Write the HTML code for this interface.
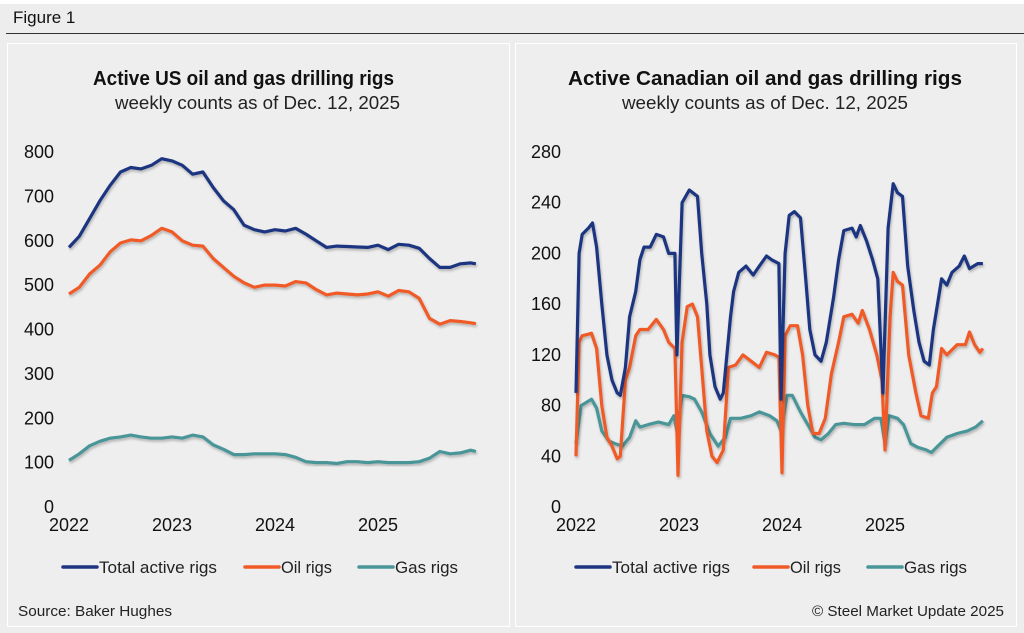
<!DOCTYPE html>
<html><head><meta charset="utf-8">
<style>
html,body{margin:0;padding:0;}
body{width:1024px;height:633px;background:#ededed;font-family:"Liberation Sans",Arial,sans-serif;position:relative;overflow:hidden;}
.top{position:absolute;left:0;top:0;width:1024px;height:4px;background:#fff;}
.fig{position:absolute;left:13px;top:8px;font-size:17px;color:#111;}
.rule{position:absolute;left:6px;top:33px;width:1018px;height:1px;background:#333;}
.panel{position:absolute;top:43px;height:584px;border:1px solid #fff;background:#eeeeee;box-sizing:border-box;}
svg text{font-family:"Liberation Sans",Arial,sans-serif;}
</style></head>
<body>
<div class="top"></div>
<div class="fig">Figure 1</div>
<div class="rule"></div>
<div class="panel" style="left:7px;width:503px"></div>
<div class="panel" style="left:515px;width:502px"></div>
<svg id="s" width="1024" height="633" style="position:absolute;left:0;top:0">
<defs><filter id="sh" x="-5%" y="-5%" width="110%" height="115%"><feDropShadow dx="1" dy="2" stdDeviation="1.2" flood-color="#000" flood-opacity="0.25"/></filter></defs>
<text x="93" y="85" font-size="20" font-weight="bold" fill="#111" textLength="301" lengthAdjust="spacingAndGlyphs">Active US oil and gas drilling rigs</text>
<text x="115" y="109" font-size="18" fill="#222" textLength="285" lengthAdjust="spacingAndGlyphs">weekly counts as of Dec. 12, 2025</text>
<text x="568" y="85" font-size="20" font-weight="bold" fill="#111" textLength="394" lengthAdjust="spacingAndGlyphs">Active Canadian oil and gas drilling rigs</text>
<text x="622" y="109" font-size="18" fill="#222" textLength="286" lengthAdjust="spacingAndGlyphs">weekly counts as of Dec. 12, 2025</text>
<text x="18" y="616" font-size="15" fill="#222" textLength="154" lengthAdjust="spacingAndGlyphs">Source: Baker Hughes</text>
<text x="812" y="616" font-size="15" fill="#222" textLength="192" lengthAdjust="spacingAndGlyphs">© Steel Market Update 2025</text>
<g id="us"></g><g id="ca"></g>
</svg>
<script>
// US data (decimal years since 2022)
const usDates = [0,0.1,0.2,0.3,0.4,0.5,0.6,0.7,0.8,0.9,1.0,1.1,1.2,1.3,1.4,1.5,1.6,1.7,1.8,1.9,2.0,2.1,2.2,2.3,2.4,2.5,2.6,2.7,2.8,2.9,3.0,3.1,3.2,3.3,3.4,3.5,3.6,3.7,3.8,3.9,3.95];
const usTotal = [585,610,650,690,725,755,765,762,770,785,780,770,750,755,720,690,670,635,625,620,625,622,628,615,600,585,588,587,586,585,590,580,592,590,583,560,540,540,548,550,548];
const usOil = [480,495,525,545,575,595,602,600,612,628,620,600,590,588,560,540,520,505,495,500,500,498,508,505,490,478,482,480,478,480,485,475,488,485,470,425,412,420,418,415,413];
const usGas = [105,120,138,148,155,158,162,158,155,155,158,155,162,158,140,130,118,118,120,120,120,118,112,102,100,100,98,102,102,100,102,100,100,100,102,110,125,120,122,128,125];
const usYTicks = [0,100,200,300,400,500,600,700,800];
const yearLabels = ["2022","2023","2024","2025"];
// Canada data
const caTotalDates = [0,0.03,0.06,0.12,0.16,0.2,0.25,0.3,0.35,0.4,0.43,0.48,0.52,0.58,0.62,0.66,0.72,0.78,0.85,0.9,0.93,0.96,0.98,1.03,1.1,1.18,1.22,1.27,1.3,1.35,1.4,1.43,1.5,1.53,1.58,1.65,1.72,1.78,1.85,1.9,1.97,1.99,2.03,2.07,2.12,2.18,2.23,2.27,2.32,2.38,2.43,2.5,2.55,2.6,2.68,2.72,2.76,2.82,2.88,2.93,2.98,3.03,3.08,3.12,3.17,3.22,3.28,3.33,3.38,3.43,3.47,3.55,3.6,3.65,3.72,3.77,3.82,3.9,3.95];
const caTotal = [90,200,215,220,224,205,160,120,100,90,88,110,150,170,195,205,205,215,213,200,200,200,120,240,250,245,200,160,120,95,85,90,150,170,185,190,183,190,198,195,192,85,200,230,233,228,180,140,120,115,130,165,195,218,220,213,222,210,195,180,90,220,255,248,245,190,155,130,115,112,140,180,175,185,190,198,188,192,192];
const caOilDates = [0,0.03,0.06,0.15,0.2,0.25,0.3,0.35,0.4,0.43,0.48,0.52,0.58,0.62,0.7,0.78,0.85,0.9,0.96,0.99,1.03,1.08,1.13,1.18,1.22,1.27,1.32,1.37,1.43,1.48,1.55,1.62,1.7,1.78,1.85,1.93,1.97,2.0,2.03,2.08,2.15,2.2,2.25,2.3,2.36,2.42,2.48,2.55,2.6,2.68,2.74,2.78,2.85,2.92,2.97,3.0,3.05,3.08,3.12,3.17,3.23,3.3,3.35,3.42,3.46,3.5,3.55,3.6,3.7,3.78,3.82,3.87,3.92,3.95];
const caOil = [40,130,135,137,125,80,55,48,38,40,100,110,135,140,140,148,140,130,125,25,130,158,160,150,110,60,40,35,45,110,112,120,115,110,122,120,118,27,135,143,143,120,80,58,58,70,105,130,150,152,145,155,140,120,100,45,150,185,178,175,120,90,72,70,90,95,125,120,128,128,138,128,122,125];
const caGasDates = [0,0.05,0.15,0.2,0.25,0.32,0.38,0.45,0.52,0.58,0.62,0.7,0.8,0.9,0.95,0.98,1.03,1.1,1.15,1.22,1.3,1.38,1.45,1.5,1.6,1.7,1.78,1.88,1.95,1.99,2.05,2.1,2.18,2.25,2.32,2.38,2.45,2.52,2.6,2.7,2.8,2.9,2.96,3.0,3.04,3.12,3.18,3.25,3.32,3.4,3.45,3.5,3.6,3.7,3.8,3.88,3.95];
const caGas = [50,80,85,78,60,52,50,48,55,68,63,65,67,65,72,60,88,87,85,75,58,48,55,70,70,72,75,72,68,60,88,88,75,65,55,53,58,65,66,65,65,70,70,50,72,70,65,50,47,45,43,47,55,58,60,63,68];
const caYTicks = [0,40,80,120,160,200,240,280];

const NS="http://www.w3.org/2000/svg";
function mk(tag,attrs,parent){const e=document.createElementNS(NS,tag);for(const k in attrs)e.setAttribute(k,attrs[k]);parent.appendChild(e);return e;}
const colors={total:"#1f3480",oil:"#f05a28",gas:"#4a9598"};
const legendNames=[["total","Total active rigs",118],["oil","Oil rigs",51],["gas","Gas rigs",63]];

function chart(gId,x0,yTop,yBot,maxV,ticks,series,labelX,legendXs){
  const g=document.getElementById(gId);
  const xs=t=>x0+t*103;
  const ys=v=>yBot-(v/maxV)*(yBot-yTop);
  ticks.forEach(v=>{
    const t=mk('text',{x:labelX,y:ys(v)+6,'text-anchor':'end','font-size':'18',fill:'#111'},g);
    
    
    t.textContent=v;
  });
  yearLabels.forEach((lab,i)=>{
    const t=mk('text',{x:xs(i),y:yBot+24,'text-anchor':'middle','font-size':'18',fill:'#111'},g);
    
    
    t.textContent=lab;
  });
  series.forEach(s=>{
    const d=s.dates.map((t,i)=>(i?'L':'M')+xs(t).toFixed(1)+','+ys(s.vals[i]).toFixed(1)).join(' ');
    const p=mk('path',{d:d,fill:'none',stroke:colors[s.key],'stroke-width':'3.2','stroke-linejoin':'round',filter:'url(#sh)'},g);
    
    
  });
  legendNames.forEach((n,i)=>{
    const lx=legendXs[i];
    const ln=mk('line',{x1:lx,y1:567,x2:lx+34,y2:567,stroke:colors[n[0]],'stroke-width':'3.5','stroke-linecap':'round'},g);
    
    
    const t=mk('text',{x:lx+36,y:573,'font-size':'17',fill:'#222',textLength:n[2],lengthAdjust:'spacingAndGlyphs'},g);
    
    
    t.textContent=n[1];
  });
}
chart('us',69,152,507,800,usYTicks,[
  {key:'gas',dates:usDates,vals:usGas},
  {key:'oil',dates:usDates,vals:usOil},
  {key:'total',dates:usDates,vals:usTotal}],54,[63,245,359]);
chart('ca',576,152,507,280,caYTicks,[
  {key:'gas',dates:caGasDates,vals:caGas},
  {key:'oil',dates:caOilDates,vals:caOil},
  {key:'total',dates:caTotalDates,vals:caTotal}],561,[576,754,868]);
</script>
</body></html>
